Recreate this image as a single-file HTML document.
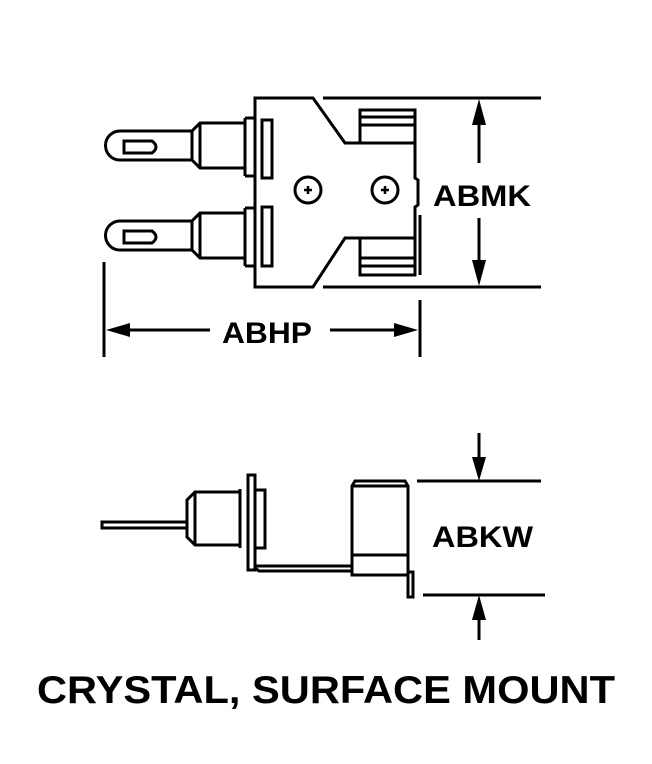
<!DOCTYPE html>
<html><head><style>html,body{margin:0;padding:0;background:#fff}svg{display:block}</style></head><body>
<svg width="652" height="764" viewBox="0 0 652 764" xmlns="http://www.w3.org/2000/svg">
<g fill="none" stroke="#000" stroke-width="3" stroke-linejoin="miter">
<path d="M255,98 L313,98 L345,143 L415,143 L415,178 L418,180 L418,205 L415,207 L415,238 L345,238 L313,287 L255,287 Z"/>
<line x1="323" y1="98" x2="541" y2="98"/>
<line x1="323" y1="287" x2="541" y2="287"/>
<rect x="360" y="110" width="55" height="33"/>
<line x1="360" y1="117" x2="415" y2="117"/>
<line x1="360" y1="125" x2="415" y2="125"/>
<rect x="360" y="238" width="55" height="37"/>
<line x1="360" y1="258" x2="415" y2="258"/>
<line x1="360" y1="266" x2="415" y2="266"/>
<line x1="420" y1="215" x2="420" y2="275"/>
<rect x="262" y="120" width="10" height="58"/>
<rect x="262" y="207" width="10" height="59"/>
<circle cx="308" cy="190" r="13"/>
<circle cx="385" cy="190" r="13"/>
<g>
<path d="M245,118 L255,118 M245,176 L255,176 M245,118 L245,176"/>
<path d="M245,123 L200,123 L192,131 L192,160 L200,168 L245,168"/>
<line x1="200" y1="123" x2="200" y2="168"/>
<path d="M192,131 L120,131 A14.5,14.5 0 0 0 120,160 L192,160"/>
<path d="M124,141 L152,141 Q160,147 152,153 L124,153 Z"/>
</g>
<g transform="translate(0,90)">
<path d="M245,118 L255,118 M245,176 L255,176 M245,118 L245,176"/>
<path d="M245,123 L200,123 L192,131 L192,160 L200,168 L245,168"/>
<line x1="200" y1="123" x2="200" y2="168"/>
<path d="M192,131 L120,131 A14.5,14.5 0 0 0 120,160 L192,160"/>
<path d="M124,141 L152,141 Q160,147 152,153 L124,153 Z"/>
</g>
<line x1="479" y1="120" x2="479" y2="163"/>
<line x1="479" y1="218" x2="479" y2="265"/>
<line x1="104" y1="262" x2="104" y2="357"/>
<line x1="420" y1="300" x2="420" y2="357"/>
<line x1="125" y1="330" x2="210" y2="330"/>
<line x1="330" y1="330" x2="400" y2="330"/>
<rect x="102" y="522" width="85" height="6"/>
<path d="M240,492 L195,492 L187,500 L187,537 L195,545 L240,545"/>
<line x1="195" y1="492" x2="195" y2="545"/>
<path d="M240,489 L240,548"/>
<rect x="248" y="475" width="7" height="95"/>
<rect x="255" y="490" width="10" height="58"/>
<path d="M255,568 L259,571 L352,571"/>
<line x1="255" y1="566" x2="352" y2="566"/>
<path d="M355,481 L405,481 L408,486 L408,575 L352,575 L352,486 Z"/>
<line x1="352" y1="486" x2="408" y2="486"/>
<line x1="352" y1="555" x2="408" y2="555"/>
<rect x="408" y="572" width="5" height="25"/>
<line x1="417" y1="481" x2="541" y2="481"/>
<line x1="423" y1="595" x2="545" y2="595"/>
<line x1="479" y1="433" x2="479" y2="460"/>
<line x1="479" y1="620" x2="479" y2="640"/>
</g>
<g fill="#000">
<polygon points="479,99 472,125 486,125"/>
<polygon points="479,286 472,260 486,260"/>
<polygon points="106,330 130,323 130,337"/>
<polygon points="418,330 394,323 394,337"/>
<polygon points="479,481 472,457 486,457"/>
<polygon points="479,595 472,620 486,620"/>
<path d="M304,190h8M308,186v8" stroke="#000" stroke-width="2.5"/>
<path d="M381,190h8M385,186v8" stroke="#000" stroke-width="2.5"/>
</g>
<g font-family="Liberation Sans, Arial, sans-serif" font-weight="bold" fill="#000">
<text x="433" y="206" font-size="30" textLength="98" lengthAdjust="spacingAndGlyphs">ABMK</text>
<text x="222" y="343" font-size="30" textLength="90" lengthAdjust="spacingAndGlyphs">ABHP</text>
<text x="432" y="547" font-size="30" textLength="101" lengthAdjust="spacingAndGlyphs">ABKW</text>
<text x="37" y="703" font-size="39" textLength="578" lengthAdjust="spacingAndGlyphs">CRYSTAL, SURFACE MOUNT</text>
</g>
</svg>
</body></html>
